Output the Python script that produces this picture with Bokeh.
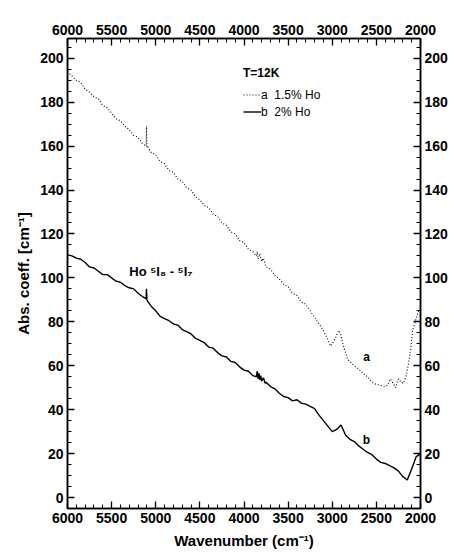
from bokeh.plotting import figure
from bokeh.models import (Range1d, LinearAxis, SingleIntervalTicker, Legend, LegendItem,
                          Label, ColumnDataSource)
from bokeh.embed import file_html
from bokeh.resources import INLINE

# ---------------- data ----------------
wn_a = [6000, 5950, 5900, 5850, 5800, 5750, 5700, 5650, 5600, 5550, 5500, 5450, 5400, 5350,
        5300, 5250, 5200, 5150, 5110, 5105, 5100, 5095, 5050, 5000, 4950, 4900, 4850, 4800,
        4750, 4700, 4650, 4600, 4550, 4500, 4450, 4400, 4350, 4300, 4250, 4200, 4150, 4100,
        4050, 4000, 3950, 3900, 3860, 3850, 3840, 3820, 3800, 3780, 3750, 3700, 3650, 3600,
        3550, 3500, 3450, 3400, 3350, 3300, 3250, 3200, 3150, 3100, 3050, 3020, 3000, 2960,
        2930, 2907, 2880, 2850, 2827, 2800, 2750, 2700, 2650, 2600, 2550, 2500, 2450, 2400,
        2374, 2340, 2310, 2283, 2265, 2250, 2220, 2193, 2165, 2136, 2110, 2090, 2060, 2040, 2020]
abs_a = [194, 192, 190, 189, 186, 184.5, 182.5, 181.5, 178.5, 177.5, 175, 172.5, 171.5, 169,
         167.5, 165, 164, 161, 160, 169, 159.5, 160, 157, 156, 153, 152, 149, 148,
         145, 144, 141, 140, 137, 135.5, 133, 132, 129, 128, 125, 124, 121, 120,
         117, 116, 113, 112, 110, 112, 108.5, 111, 107.5, 109, 105, 104, 101, 99.5,
         97, 96, 93, 92, 89, 88, 85, 82, 79, 76, 72, 69, 70, 73,
         76, 75, 70, 66, 63, 62, 60, 58.5, 56.5, 55, 52.5, 51.5, 51, 50.5,
         51, 54, 52, 50, 52.5, 54, 52.5, 52, 55, 61, 68, 76, 80, 83, 85]

wn_b = [6000, 5950, 5900, 5850, 5800, 5750, 5700, 5650, 5600, 5550, 5500, 5450, 5400, 5350,
        5300, 5250, 5200, 5150, 5110, 5105, 5100, 5095, 5050, 5000, 4950, 4900, 4850, 4800,
        4750, 4700, 4650, 4600, 4550, 4500, 4450, 4400, 4350, 4300, 4250, 4200, 4150, 4100,
        4050, 4000, 3950, 3900, 3860, 3850, 3840, 3830, 3820, 3810, 3800, 3780, 3760, 3750,
        3700, 3650, 3600, 3550, 3500, 3450, 3400, 3350, 3300, 3250, 3200, 3150, 3100, 3050,
        3000, 2950, 2900, 2850, 2800, 2750, 2700, 2650, 2600, 2550, 2500, 2450, 2400, 2350,
        2300, 2250, 2200, 2150, 2100, 2050, 2000]
abs_b = [110.5, 110, 109, 108.5, 107, 105, 104.5, 103, 101.5, 101.5, 100, 98.5, 98, 96.5,
         95.5, 95, 93, 91.5, 90.5, 95, 90, 89.5, 87, 85, 82.5, 81.5, 80.5, 79,
         78.5, 76.5, 75.5, 74.5, 72.5, 71.5, 70.5, 68.5, 68, 66, 64.5, 64, 62, 61.5,
         59.5, 58, 57.5, 55.5, 55, 57.5, 54, 56.5, 53.5, 55.5, 53, 54.5, 52, 52.5,
         50.5, 49.5, 47.5, 46, 45.5, 44, 44.5, 43, 42.5, 41.5, 40.5, 37.5, 35, 32.5,
         30, 31, 33, 28.5, 26.5, 25.5, 23.5, 22, 20.5, 19.5, 17.5, 16, 15.5, 14.5,
         13.5, 12, 9.5, 8, 13, 18.5, 20]

legend_title = "T=12K"
legend_labels = ["a  1.5% Ho", "b  2% Ho"]
curve_tags = ["a", "b"]
tag_wn = [2612, 2612]
tag_abs = [64, 26]
transition_text = "Ho \u2075I\u2088 - \u2075I\u2087"
transition_pos = (5300, 103)

x_title = "Wavenumber (cm\u207b\u00b9)"
y_title = "Abs. coeff. [cm\u207b\u00b9]"

# ---------------- figure ----------------
FONT = "Liberation Sans"

p = figure(width=450, height=560, output_backend="svg", toolbar_location=None,
           x_range=Range1d(6000, 2000), y_range=Range1d(-5, 209),
           min_border_left=67, min_border_right=30, min_border_top=38, min_border_bottom=52)
p.background_fill_color = "white"
p.border_fill_color = "white"
p.xgrid.visible = False
p.ygrid.visible = False
p.outline_line_color = "black"
p.outline_line_width = 1.5

src_a = ColumnDataSource(dict(x=wn_a, y=abs_a))
src_b = ColumnDataSource(dict(x=wn_b, y=abs_b))
ra = p.line("x", "y", source=src_a, line_color="black", line_width=1.1, line_dash="1 2")
rb = p.line("x", "y", source=src_b, line_color="black", line_width=1.4)

def style_axis(ax):
    ax.axis_line_color = "black"
    ax.axis_line_width = 1.5
    ax.major_tick_in = 7
    ax.major_tick_out = 0
    ax.minor_tick_in = 4
    ax.minor_tick_out = 0
    ax.major_tick_line_width = 1.3
    ax.minor_tick_line_width = 1.0
    ax.major_tick_line_color = "black"
    ax.minor_tick_line_color = "black"
    ax.major_label_text_font = FONT
    ax.major_label_text_font_style = "bold"
    ax.major_label_text_font_size = "14px"
    ax.major_label_text_color = "black"
    ax.major_label_standoff = 4

xt = SingleIntervalTicker(interval=500, num_minor_ticks=5)
yt = SingleIntervalTicker(interval=20, num_minor_ticks=4)

p.xaxis.ticker = xt
p.yaxis.ticker = yt
style_axis(p.xaxis[0])
style_axis(p.yaxis[0])
p.xaxis.axis_label = x_title
p.yaxis.axis_label = y_title
for ax in (p.xaxis[0], p.yaxis[0]):
    ax.axis_label_text_font = FONT
    ax.axis_label_text_font_style = "bold"
    ax.axis_label_text_font_size = "15px"
    ax.axis_label_text_color = "black"
p.xaxis.axis_label_standoff = 6
p.yaxis.axis_label_standoff = 5

top = LinearAxis(ticker=SingleIntervalTicker(interval=500, num_minor_ticks=5))
style_axis(top)
p.add_layout(top, "above")
right = LinearAxis(ticker=SingleIntervalTicker(interval=20, num_minor_ticks=4))
style_axis(right)
p.add_layout(right, "right")

legend = Legend(items=[LegendItem(label=legend_labels[0], renderers=[ra]),
                       LegendItem(label=legend_labels[1], renderers=[rb])],
                location=(176, 388), title=legend_title,
                title_text_font=FONT, title_text_font_style="bold", title_text_font_size="12px",
                title_text_color="black",
                label_text_font=FONT, label_text_font_size="12px", label_text_color="black",
                background_fill_alpha=0, border_line_alpha=0,
                padding=0, margin=0, spacing=0, glyph_width=18, glyph_height=17,
                label_height=17, label_standoff=0, title_standoff=6)
p.add_layout(legend, "center")

for t, xw, ya in zip(curve_tags, tag_wn, tag_abs):
    p.add_layout(Label(x=xw, y=ya, text=t, text_font=FONT, text_font_style="bold",
                       text_font_size="12px", text_color="black",
                       text_align="center", text_baseline="middle"))

p.add_layout(Label(x=transition_pos[0], y=transition_pos[1], text=transition_text,
                   text_font=FONT, text_font_style="bold", text_font_size="13px",
                   text_color="black", text_align="left", text_baseline="middle"))

open("out.html", "w").write(file_html(p, INLINE))
